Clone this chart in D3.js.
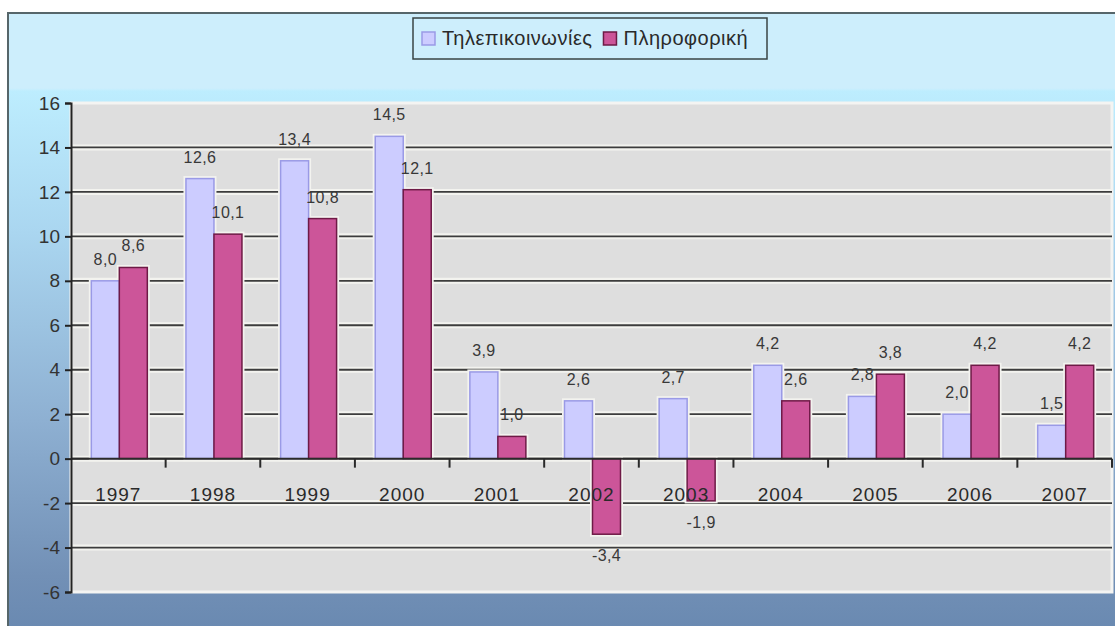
<!DOCTYPE html>
<html>
<head>
<meta charset="utf-8">
<script src="https://cdn.jsdelivr.net/npm/d3@7"></script>
<style>
  body { margin: 0; background: #fff; }
  svg { display: block; font-family: "Liberation Sans", Arial, sans-serif; }
</style>
</head>
<body>
<svg id="chart" width="1115" height="626"></svg>
<script>
// data
const years    = ["1997","1998","1999","2000","2001","2002","2003","2004","2005","2006","2007"];
const telecom  = [8.0, 12.6, 13.4, 14.5, 3.9, 2.6, 2.7, 4.2, 2.8, 2.0, 1.5];
const infotech = [8.6, 10.1, 10.8, 12.1, 1.0, -3.4, -1.9, 2.6, 3.8, 4.2, 4.2];
const seriesNames = ["Τηλεπικοινωνίες", "Πληροφορική"];
const yTicks = [16, 14, 12, 10, 8, 6, 4, 2, 0, -2, -4, -6];

const svg = d3.select("#chart");
const width = +svg.attr("width"), height = +svg.attr("height");

// plot area box
const plot = { left: 71, right: 1112, top: 103, bottom: 592 };

const colors = { fill: ["#ccccff", "#cc5599"], stroke: ["#9a9ae6", "#6e1a46"] };

// background frame gradient
const defs = svg.append("defs");
const grad = defs.append("linearGradient").attr("id", "bg")
  .attr("x1", 0).attr("y1", 0).attr("x2", 0).attr("y2", 1);
[[0, "#cdeefc"], [0.12, "#cdeefc"], [0.125, "#bdedfe"], [0.35, "#aad6f0"],
 [0.65, "#8eb0d2"], [0.9, "#7290b6"], [1, "#6888b0"]]
  .forEach(([o, c]) => grad.append("stop").attr("offset", o).attr("stop-color", c));

svg.append("rect")
  .attr("x", 8).attr("y", 13).attr("width", width).attr("height", height)
  .attr("fill", "url(#bg)")
  .attr("stroke", "#56666a").attr("stroke-width", 2);

// scales
const x0 = d3.scaleBand().domain(years).range([plot.left, plot.right]).paddingInner(0).paddingOuter(0);
const groupW = 56;
const x1 = d3.scaleBand().domain([0, 1]).range([0, groupW]);
const y = d3.scaleLinear().domain([-6, 16]).range([plot.bottom, plot.top]);

// plot background
svg.append("rect")
  .attr("x", plot.left).attr("y", plot.top)
  .attr("width", plot.right - plot.left).attr("height", plot.bottom - plot.top)
  .attr("fill", "#dedede").attr("stroke", "#f4f4f2").attr("stroke-width", 3);

// gridlines with light halo
const gridVals = yTicks.filter(d => d !== 16 && d !== -6);
const grid = svg.append("g");
grid.selectAll("line.halo").data(gridVals).enter().append("line")
  .attr("class", "halo")
  .attr("x1", plot.left).attr("x2", plot.right)
  .attr("y1", d => y(d)).attr("y2", d => y(d))
  .attr("stroke", "#f3f3ef").attr("stroke-width", 6);
grid.selectAll("line.dark").data(gridVals).enter().append("line")
  .attr("class", "dark")
  .attr("x1", plot.left).attr("x2", plot.right)
  .attr("y1", d => y(d)).attr("y2", d => y(d))
  .attr("stroke", "#3c3c3c").attr("stroke-width", 1.8);

// bars
const rows = years.map((yr, i) => ({ year: yr, vals: [telecom[i], infotech[i]] }));
const groups = svg.append("g").selectAll("g")
  .data(rows).enter().append("g")
  .attr("transform", d => `translate(${x0(d.year) + (x0.bandwidth() - groupW) / 2 + 1},0)`);

const barData = d => d.vals.map((v, k) => ({ v, k }));
// halo behind bars
groups.selectAll("rect.halo").data(barData).enter().append("rect")
  .attr("class", "halo")
  .attr("x", d => x1(d.k)).attr("width", x1.bandwidth())
  .attr("y", d => y(Math.max(0, d.v))).attr("height", d => Math.abs(y(d.v) - y(0)))
  .attr("fill", "none").attr("stroke", "#f3f3ef").attr("stroke-width", 5);
groups.selectAll("rect.bar").data(barData).enter().append("rect")
  .attr("class", "bar")
  .attr("x", d => x1(d.k)).attr("width", x1.bandwidth())
  .attr("y", d => y(Math.max(0, d.v))).attr("height", d => Math.abs(y(d.v) - y(0)))
  .attr("fill", d => colors.fill[d.k])
  .attr("stroke", d => colors.stroke[d.k]).attr("stroke-width", 1.5);

// data labels
const fmt = v => d3.format(".1f")(v).replace(".", ",").replace("−", "-");
groups.selectAll("text").data(barData).enter().append("text")
  .attr("x", d => x1(d.k) + x1.bandwidth() / 2)
  .attr("y", d => d.v >= 0 ? y(d.v) - 16 : y(d.v) + 27)
  .attr("text-anchor", "middle")
  .attr("font-size", 16).attr("letter-spacing", 0.4).attr("fill", "#383838")
  .text(d => fmt(d.v));

// x axis at zero
const xAxis = svg.append("g").attr("transform", `translate(0,${y(0)})`);
xAxis.append("line")
  .attr("x1", plot.left).attr("x2", plot.right)
  .attr("stroke", "#2a2a2a").attr("stroke-width", 2);
xAxis.selectAll("line.tick").data(years.slice(1).concat(["end"])).enter().append("line")
  .attr("class", "tick")
  .attr("x1", d => d === "end" ? plot.right : x0(d))
  .attr("x2", d => d === "end" ? plot.right : x0(d))
  .attr("y1", 0).attr("y2", 9)
  .attr("stroke", "#2a2a2a").attr("stroke-width", 2);
xAxis.selectAll("text").data(years).enter().append("text")
  .attr("x", d => x0(d) + x0.bandwidth() / 2)
  .attr("y", 42)
  .attr("text-anchor", "middle")
  .attr("font-size", 19).attr("letter-spacing", 1).attr("fill", "#2a2a2a")
  .text(d => d);

// y axis
const yAxis = d3.axisLeft(y).tickValues(yTicks).tickSize(6).tickFormat(d => d < 0 ? "-" + Math.abs(d) : d);
svg.append("g")
  .attr("transform", `translate(${plot.left},0)`)
  .call(yAxis)
  .call(g => g.selectAll("path, line").attr("stroke", "#222").attr("stroke-width", 2))
  .call(g => g.selectAll("text")
    .attr("font-size", 19).attr("fill", "#333").attr("x", -11)
    .attr("font-family", "'Liberation Sans', Arial, sans-serif"));

// legend
const legend = svg.append("g");
legend.append("rect")
  .attr("x", 413).attr("y", 18).attr("width", 354).attr("height", 41)
  .attr("fill", "none").attr("stroke", "#3a4444").attr("stroke-width", 1.5);
let lx = 422;
seriesNames.forEach((name, k) => {
  legend.append("rect")
    .attr("x", lx).attr("y", 32).attr("width", 13).attr("height", 13)
    .attr("fill", colors.fill[k]).attr("stroke", colors.stroke[k]).attr("stroke-width", 1.5);
  const t = legend.append("text")
    .attr("x", lx + 20).attr("y", 45)
    .attr("font-size", 20).attr("letter-spacing", 0.5).attr("fill", "#2a2a2a")
    .text(name);
  lx += 20 + t.node().getComputedTextLength() + 11;
});
</script>
</body>
</html>
